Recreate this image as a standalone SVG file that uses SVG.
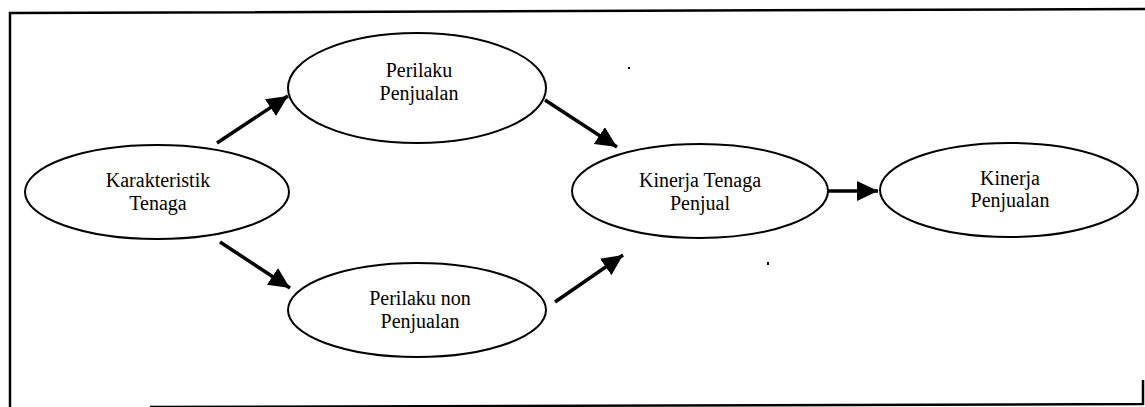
<svg xmlns="http://www.w3.org/2000/svg" width="1145" height="407" viewBox="0 0 1145 407">
<style>
.node ellipse{fill:#fff;stroke:#000;stroke-width:2}
.node text{font-size:20px;fill:#000;text-anchor:middle}
.conn line{stroke:#000;stroke-width:3.5}
.frame{fill:none;stroke:#000;stroke-width:2.5}
</style>
<defs>
<marker id="ah" markerUnits="userSpaceOnUse" markerWidth="22" markerHeight="20" refX="21" refY="10" orient="auto" viewBox="0 0 22 20">
<path d="M0,0 L21,10 L0,20 z" fill="#000"/>
</marker>
</defs>
<rect width="1145" height="407" fill="#fff"/>
<polyline class="frame" points="10,407 10,13 1145,9"/>
<polyline class="frame" points="150,407 1143,404 1143,380"/>
<rect x="628" y="67" width="2" height="2" fill="#000"/>
<rect x="767" y="262" width="2" height="3" fill="#000"/>
<g class="conn">
<line x1="217" y1="143" x2="288" y2="96" marker-end="url(#ah)"/>
<line x1="220" y1="242" x2="290" y2="288" marker-end="url(#ah)"/>
<line x1="545" y1="100" x2="617" y2="147" marker-end="url(#ah)"/>
<line x1="555" y1="302" x2="623" y2="255" marker-end="url(#ah)"/>
<line x1="828" y1="191" x2="878" y2="191" marker-end="url(#ah)"/>
</g>
<g font-family="'Liberation Serif', 'Times New Roman', 'DejaVu Serif', serif">
<g id="karakteristik" class="node">
<ellipse cx="157" cy="192" rx="132" ry="47"/>
<text x="158" y="187">Karakteristik</text>
<text x="158" y="210">Tenaga</text>
</g>
<g id="perilaku" class="node">
<ellipse cx="417" cy="88" rx="129" ry="55"/>
<text x="419" y="77">Perilaku</text>
<text x="419" y="100">Penjualan</text>
</g>
<g id="perilaku-non" class="node">
<ellipse cx="417" cy="310" rx="129" ry="47"/>
<text x="420" y="305">Perilaku non</text>
<text x="420" y="328">Penjualan</text>
</g>
<g id="kinerja-tenaga" class="node">
<ellipse cx="700" cy="191" rx="128" ry="47"/>
<text x="700" y="187">Kinerja Tenaga</text>
<text x="700" y="210">Penjual</text>
</g>
<g id="kinerja-penjualan" class="node">
<ellipse cx="1009" cy="190" rx="129" ry="47"/>
<text x="1010" y="185">Kinerja</text>
<text x="1010" y="207">Penjualan</text>
</g>
</g>
</svg>
